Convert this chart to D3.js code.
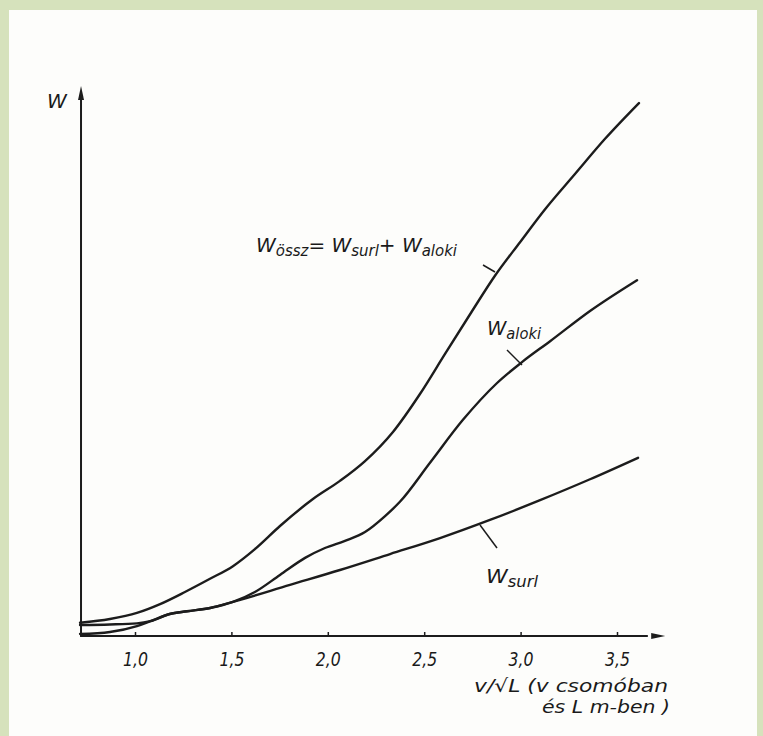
<!DOCTYPE html>
<html>
<head>
<meta charset="utf-8">
<script src="https://cdn.jsdelivr.net/npm/d3@7"></script>
<style>
  html, body { margin: 0; padding: 0; background: #d6e2bc; }
  svg { display: block; }
  text { font-family: "DejaVu Sans", sans-serif; font-style: italic; fill: #1a1a1a; }
</style>
</head>
<body>
<svg id="chart" width="763" height="736"></svg>
<script>
// x ticks (v / sqrt(L))
const xTicks = [1.0, 1.5, 2.0, 2.5, 3.0, 3.5];

// W össz = W súrl + W alaki  (relative units)
const osszV = [0.715, 0.87, 1.01, 1.13, 1.259, 1.389, 1.508, 1.622, 1.752, 1.923, 2.063, 2.193, 2.338, 2.478, 2.608, 2.738, 2.867, 2.997, 3.127, 3.282, 3.438, 3.614];
const osszW = [2.4, 3.1, 4.2, 5.8, 8.0, 10.4, 12.7, 15.8, 20.0, 24.9, 28.2, 31.8, 37.1, 44.0, 51.3, 58.5, 65.5, 71.6, 77.6, 84.0, 90.4, 96.9];

// W alaki (wave resistance)
const alakiV = [0.715, 0.87, 1.01, 1.08, 1.18, 1.27, 1.39, 1.508, 1.622, 1.752, 1.882, 1.985, 2.089, 2.193, 2.297, 2.374, 2.53, 2.701, 2.878, 3.007, 3.153, 3.36, 3.604];
const alakiW = [0.36, 0.73, 1.8, 2.7, 4.0, 4.5, 5.1, 6.2, 8.0, 11.1, 14.2, 16.0, 17.3, 18.9, 21.8, 24.4, 31.5, 39.3, 46.0, 49.8, 53.6, 59.1, 64.7];

// W súrl (friction resistance)
const surlV = [0.715, 0.87, 1.01, 1.08, 1.18, 1.27, 1.39, 1.508, 1.804, 2.063, 2.323, 2.582, 2.841, 3.101, 3.36, 3.609];
const surlW = [2.0, 2.1, 2.3, 2.7, 4.0, 4.5, 5.1, 6.2, 9.3, 12.0, 14.9, 17.8, 21.1, 24.7, 28.5, 32.4];

const svg = d3.select('#chart');

// paper
svg.append('rect')
    .attr('x', 9).attr('y', 10)
    .attr('width', 748).attr('height', 726)
    .attr('fill', '#fdfdfb');

const x = d3.scaleLinear().domain([1, 3.5]).range([135, 617]);
const y = d3.scaleLinear().domain([0, 100]).range([636, 86]);

const ink = '#1c1c1c';

// y axis with arrow
svg.append('line')
    .attr('x1', x(0.72)).attr('y1', y(0))
    .attr('x2', x(0.72)).attr('y2', y(99))
    .attr('stroke', ink).attr('stroke-width', 2);
svg.append('path')
    .attr('d', `M${x(0.72)},${y(100)} l-3,14 l6,0 z`)
    .attr('fill', ink);

// x axis
const xAxis = d3.axisBottom(x)
    .tickValues(xTicks)
    .tickSize(-4)
    .tickPadding(17)
    .tickFormat(d => d3.format('.1f')(d).replace('.', ','));

const gx = svg.append('g')
    .attr('transform', `translate(0,${y(0)})`)
    .call(xAxis);
gx.select('.domain').remove();
gx.selectAll('.tick line').attr('stroke', ink).attr('stroke-width', 1.5);
gx.selectAll('.tick text')
    .attr('font-size', 19)
    .attr('fill', ink)
    .attr('textLength', 25)
    .attr('lengthAdjust', 'spacingAndGlyphs')
    .style('font-family', '"DejaVu Sans", sans-serif')
    .style('font-style', 'italic');

svg.append('line')
    .attr('x1', x(0.715)).attr('y1', y(0))
    .attr('x2', x(3.66)).attr('y2', y(0))
    .attr('stroke', ink).attr('stroke-width', 2);
svg.append('path')
    .attr('d', `M${x(3.75)},${y(0)} l-14,-3 l0,6 z`)
    .attr('fill', ink);

// curves
const line = d3.line()
    .x(d => x(d[0]))
    .y(d => y(d[1]))
    .curve(d3.curveMonotoneX);

const series = [
    { name: 'ossz', pts: d3.zip(osszV, osszW) },
    { name: 'alaki', pts: d3.zip(alakiV, alakiW) },
    { name: 'surl', pts: d3.zip(surlV, surlW) }
];

svg.selectAll('path.curve')
    .data(series)
    .enter().append('path')
    .attr('class', 'curve')
    .attr('d', d => line(d.pts))
    .attr('fill', 'none')
    .attr('stroke', ink)
    .attr('stroke-width', 2.4)
    .attr('stroke-linecap', 'round');

// leader ticks
const leaders = [
    [483, 265, 495, 272],
    [507, 350, 522, 365],
    [480, 525, 497, 548]
];
svg.selectAll('line.leader')
    .data(leaders)
    .enter().append('line')
    .attr('x1', d => d[0]).attr('y1', d => d[1])
    .attr('x2', d => d[2]).attr('y2', d => d[3])
    .attr('stroke', ink).attr('stroke-width', 1.5);

// labels with subscripts
function subLabel(xp, yp, parts, width) {
    const t = svg.append('text')
        .attr('x', xp).attr('y', yp);
    parts.forEach(p => {
        t.append('tspan')
            .attr('font-size', p[1] ? 15 : 20)
            .attr('dy', p[1] ? 4 : -4)
            .text(p[0]);
    });
    t.select('tspan').attr('dy', 0);
    if (width) t.attr('textLength', width).attr('lengthAdjust', 'spacingAndGlyphs');
    return t;
}

subLabel(256, 252, [['W', 0], ['össz', 1], ['= W', 0], ['surl', 1], ['+ W', 0], ['aloki', 1]], 201);
subLabel(487, 335, [['W', 0], ['aloki', 1]], 54);
subLabel(486, 583, [['W', 0], ['surl', 1]], 52);

svg.append('text')
    .attr('x', 47).attr('y', 108)
    .attr('font-size', 20)
    .text('W');

// axis title
svg.append('text')
    .attr('x', 668).attr('y', 692)
    .attr('text-anchor', 'end')
    .attr('font-size', 18)
    .attr('textLength', 194)
    .attr('lengthAdjust', 'spacingAndGlyphs')
    .text('v/√L (v csomóban');
svg.append('text')
    .attr('x', 670).attr('y', 713)
    .attr('text-anchor', 'end')
    .attr('font-size', 18)
    .attr('textLength', 128)
    .attr('lengthAdjust', 'spacingAndGlyphs')
    .text('és L m-ben )');
</script>
</body>
</html>
